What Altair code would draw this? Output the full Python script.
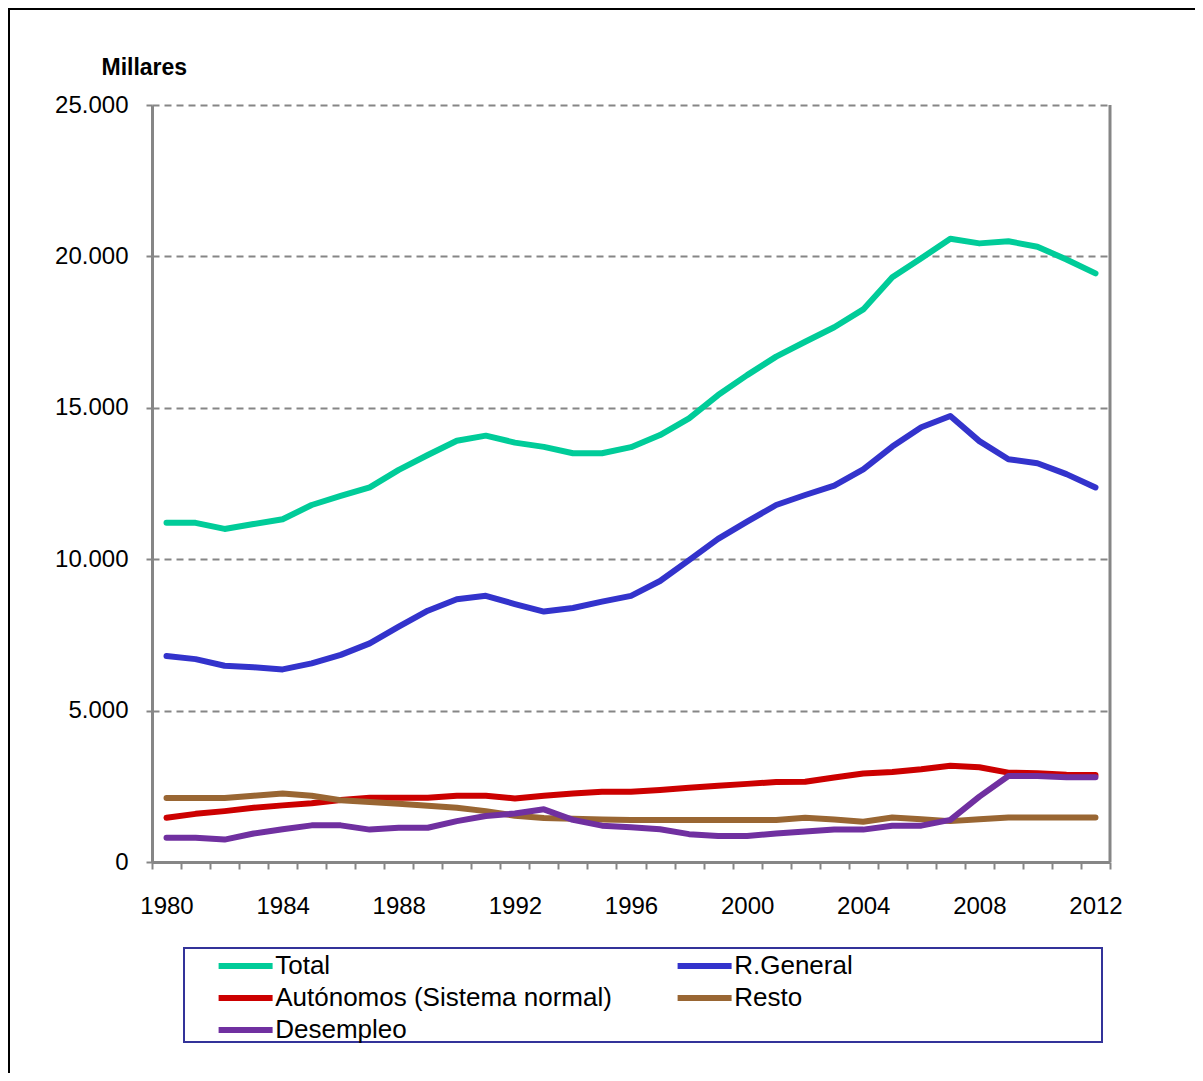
import altair as alt
import pandas as pd

years = list(range(1980, 2013))
series_names = ["Total", "R.General", "Autónomos (Sistema normal)", "Resto", "Desempleo"]
series_colors = ["#00CC99", "#3333CC", "#CC0000", "#996633", "#7030A0"]

total = [11200, 11200, 11000, 11160, 11320, 11790, 12090, 12370, 12950, 13440,
         13910, 14080, 13850, 13710, 13500, 13500, 13700, 14100, 14650, 15420,
         16080, 16690, 17180, 17660, 18250, 19310, 19940, 20580, 20430, 20500,
         20320, 19900, 19440]
r_general = [6800, 6700, 6480, 6430, 6360, 6560, 6840, 7220, 7770, 8300,
             8680, 8790, 8520, 8270, 8390, 8600, 8790, 9280, 9970, 10670,
             11240, 11790, 12120, 12430, 12970, 13720, 14360, 14730, 13900, 13300,
             13170, 12810, 12370]
autonomos = [1460, 1590, 1680, 1790, 1870, 1940, 2050, 2120, 2120, 2120,
             2190, 2190, 2100, 2190, 2260, 2320, 2320, 2380, 2450, 2520,
             2580, 2640, 2650, 2790, 2920, 2970, 3060, 3180, 3130, 2950,
             2930, 2880, 2870]
resto = [2110, 2110, 2110, 2190, 2260, 2190, 2040, 1980, 1920, 1860,
         1790, 1680, 1530, 1450, 1430, 1400, 1390, 1390, 1390, 1390,
         1390, 1390, 1460, 1400, 1330, 1470, 1410, 1350, 1410, 1470,
         1470, 1470, 1470]
desempleo = [800, 800, 740, 940, 1080, 1210, 1210, 1070, 1130, 1130,
             1350, 1520, 1600, 1740, 1390, 1200, 1150, 1080, 920, 860,
             860, 940, 1010, 1070, 1070, 1200, 1200, 1390, 2160, 2840,
             2840, 2800, 2800]

y_ticks = [0, 5000, 10000, 15000, 20000, 25000]
x_boundaries = [y - 0.5 for y in years] + [years[-1] + 0.5]

all_values = [total, r_general, autonomos, resto, desempleo]
rows = []
for name, vals in zip(series_names, all_values):
    for yr, v in zip(years, vals):
        rows.append({"year": yr, "value": v, "serie": name})
df = pd.DataFrame(rows)

W, H = 958, 757
FONT = "Liberation Sans"
GRAY = "#868686"

x_enc = alt.X(
    "year:Q",
    scale=alt.Scale(domain=[years[0] - 0.5, years[-1] + 0.5], nice=False, zero=False),
    axis=alt.Axis(
        values=x_boundaries,
        labelExpr="((datum.value + 0.5) % 4 == 0 && datum.value < 2012) ? '' + (datum.value + 0.5) : ''",
        labelOffset=W / 33 / 2,
        labelFlush=False,
        labelOverlap=False,
        labelFontSize=24,
        labelFont=FONT,
        labelColor="#000000",
        labelPadding=25,
        tickSize=7,
        tickColor=GRAY,
        tickWidth=2,
        domainColor=GRAY,
        domainWidth=3,
        grid=False,
        title=None,
    ),
)
y_enc = alt.Y(
    "value:Q",
    scale=alt.Scale(domain=[0, 25000], nice=False),
    axis=alt.Axis(
        values=y_ticks,
        labelExpr="replace(format(datum.value, ','), ',', '.')",
        labelFontSize=24,
        labelFont=FONT,
        labelColor="#000000",
        labelPadding=18,
        tickSize=6,
        tickColor=GRAY,
        tickWidth=2,
        domainColor=GRAY,
        domainWidth=3,
        grid=True,
        gridColor=GRAY,
        gridDash=[7, 5],
        gridWidth=2,
        title="Millares",
        titleAngle=0,
        titleAlign="left",
        titleBaseline="alphabetic",
        titleX=-51,
        titleY=-31,
        titleFont=FONT,
        titleFontSize=23,
        titleFontWeight="bold",
        titleColor="#000000",
    ),
)
SYM = 10.8
color_enc = alt.Color(
    "serie:N",
    scale=alt.Scale(domain=series_names, range=series_colors),
    sort=series_names,
    legend=alt.Legend(
        orient="none",
        legendX=59,
        legendY=848,
        columns=2,
        direction="horizontal",
        symbolType="M-1,0H9",
        symbolSize=SYM * SYM,
        symbolStrokeWidth=6,
        labelFontSize=26,
        labelFont=FONT,
        labelColor="#000000",
        labelLimit=800,
        labelOffset=38.2,
        columnPadding=53,
        rowPadding=6,
        padding=0,
        title=None,
    ),
)

base = alt.Chart(df)
layers = []
for name in series_names:
    layers.append(
        base.transform_filter(alt.datum.serie == name)
        .mark_line(strokeWidth=6, strokeCap="round", strokeJoin="round")
        .encode(x=x_enc, y=y_enc, color=color_enc)
    )

one = alt.Chart(pd.DataFrame({"a": [0]}))
right_border = one.mark_rule(color=GRAY, strokeWidth=3).encode(
    x=alt.value(W), y=alt.value(0), y2=alt.value(H)
)
legend_box = one.mark_rect(filled=False, stroke="#333399", strokeWidth=2).encode(
    x=alt.value(32), x2=alt.value(950), y=alt.value(843), y2=alt.value(937)
)
outer_box = one.mark_rect(filled=False, stroke="#000000", strokeWidth=2).encode(
    x=alt.value(-143), x2=alt.value(1200), y=alt.value(-96), y2=alt.value(1300)
)

chart = (
    alt.layer(*layers, right_border, legend_box, outer_box)
    .properties(
        width=W,
        height=H,
        autosize=alt.AutoSizeParams(type="none"),
        padding={"left": 144, "top": 97, "right": 85, "bottom": 211},
        background="#FFFFFF",
    )
    .configure_view(stroke=None)
)

chart.save("out.html", embed_options={"renderer": "svg", "actions": False})
